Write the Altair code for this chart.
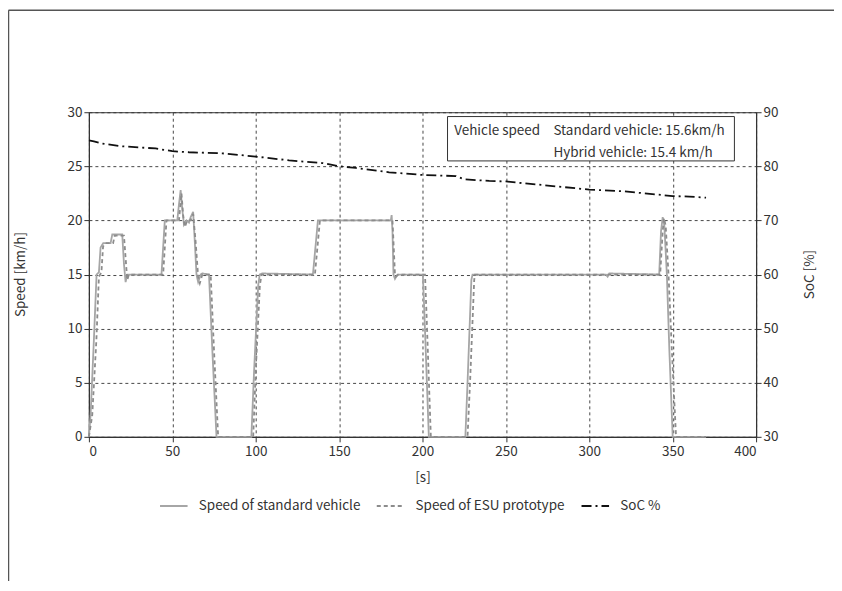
import altair as alt
import pandas as pd

# ---------------- data ----------------
series_names = ["Speed of standard vehicle", "Speed of ESU prototype", "SoC %"]

std_t = [0, 1, 3, 4.6, 6, 7, 8.6, 13, 14, 20, 21, 22, 23, 43.5, 45.5, 53, 54, 55, 56, 57,
         58.5, 60, 61, 62.5, 63.5, 64.5, 65.5, 67, 68, 72, 74, 76.5, 97.4, 99, 101.5, 102.4,
         104, 134.3, 137.3, 181, 181.5, 182, 182.6, 183.5, 185, 200.2, 201, 203.8, 225.7,
         227, 229.3, 230, 310, 311, 312, 341.9, 343, 344, 345, 346.5, 348, 350, 370]
std_v = [0, 2, 9, 15, 15.2, 17.5, 17.9, 17.9, 18.7, 18.7, 16, 14.3, 15, 15, 20, 20, 21.5, 22.8, 21, 19.6,
         20, 19.8, 20.3, 20.8, 18, 15, 14.3, 15, 15.1, 15, 8, 0, 0, 6, 14, 15,
         15.1, 15, 20, 20, 20.5, 19, 15, 14.6, 15, 15, 12, 0, 0,
         5, 14.5, 15, 15, 14.8, 15.1, 15, 19, 20.3, 19.5, 15, 8, 0, 0]

esu_t = [0, 2, 4.5, 6, 7.5, 8.5, 10, 14.5, 15.5, 21, 22.5, 23, 24, 44.5, 46.5, 54, 55.5, 56.5, 57.5,
         59, 61, 62.5, 64, 65.5, 66.5, 68, 73, 75, 77.5, 98.5, 100, 102.5, 103.5, 135.5, 138.5,
         182, 183.5, 184, 185.5, 201.5, 202.5, 205, 227, 228.5, 231, 231.5, 342.5, 344, 344.8,
         345.8, 347.5, 349.5, 352, 370]
esu_v = [0, 2, 9, 14.8, 15.2, 17.6, 17.9, 17.9, 18.6, 18.6, 15.5, 14.5, 15, 15, 20, 20, 22.5, 20.5, 19.4,
         20, 20, 20.6, 18, 14.8, 14.2, 15, 15, 8, 0, 0, 6, 14, 15, 15, 20,
         20, 15, 14.8, 15, 15, 11, 0, 0, 5, 14.5, 15, 15, 19, 20.2,
         19.5, 15, 8, 0, 0]

soc_t = [0, 3, 8, 20, 40, 50, 60, 80, 100, 120, 140, 150, 160, 180, 200, 220, 225, 240, 250,
         260, 280, 300, 320, 340, 350, 360, 370]
soc_v = [84.8, 84.6, 84.2, 83.7, 83.3, 82.8, 82.6, 82.4, 81.8, 81.1, 80.6, 80.0, 79.7, 78.9, 78.4,
         78.2, 77.6, 77.3, 77.2, 76.9, 76.3, 75.7, 75.4, 74.8, 74.5, 74.4, 74.2]

box_label = ["Vehicle speed", "Standard vehicle: 15.6km/h", "Hybrid vehicle: 15.4 km/h"]

FONT = "Noto Sans CJK JP"
DARK = "#333333"

speed_df = pd.concat([
    pd.DataFrame({"t": std_t, "v": std_v, "series": series_names[0]}),
    pd.DataFrame({"t": esu_t, "v": esu_v, "series": series_names[1]}),
])
soc_df = pd.DataFrame({"t": soc_t, "v": soc_v, "series": series_names[2]})

color = alt.Color("series:N", title=None,
                  scale=alt.Scale(domain=series_names, range=["#a6a6a6", "#8c8c8c", "#111111"]),
                  legend=alt.Legend(orient="none", legendX=70, legendY=379, direction="horizontal",
                                    symbolType="stroke", symbolSize=760, labelFontSize=13.5,
                                    labelFont=FONT, labelColor=DARK, columnPadding=12,
                                    labelOffset=10, labelLimit=300))
dash = alt.StrokeDash("series:N", title=None,
                      scale=alt.Scale(domain=series_names, range=[[1, 0], [4, 3], [10, 4, 2, 4]]))
width = alt.StrokeWidth("series:N", title=None,
                        scale=alt.Scale(domain=series_names, range=[1.8, 1.8, 2]))

x_scale = alt.Scale(domain=[0, 400], nice=False)
x_axis = alt.Axis(values=list(range(0, 401, 50)), title="[s]", grid=True,
                  titleY=41, titleBaseline="middle", titleFontWeight="normal", labelPadding=3)
y_scale = alt.Scale(domain=[0, 30], nice=False)
y_axis = alt.Axis(values=list(range(0, 31, 5)), title="Speed [km/h]", grid=True,
                  titleX=-68, titleY=162, titleAngle=-90, titleBaseline="middle",
                  titleFontWeight="normal")

speed = alt.Chart(speed_df).mark_line(interpolate="linear").encode(
    x=alt.X("t:Q", scale=x_scale, axis=x_axis),
    y=alt.Y("v:Q", scale=y_scale, axis=y_axis),
    color=color, strokeDash=dash, strokeWidth=width,
)

box_df = pd.DataFrame({"t0": [215], "t1": [387], "v0": [25.5], "v1": [29.6]})
box = alt.Chart(box_df).mark_rect(fill="white", stroke=DARK, strokeWidth=1).encode(
    x=alt.X("t0:Q", scale=x_scale, axis=x_axis), x2="t1:Q",
    y=alt.Y("v0:Q", scale=y_scale, axis=y_axis), y2="v1:Q")

txt_df = pd.DataFrame({"t": [219, 278.5, 278.5], "v": [28.25, 28.25, 26.2], "label": box_label})
txt = alt.Chart(txt_df).mark_text(align="left", baseline="middle", font=FONT,
                                  fontSize=13.5, color=DARK).encode(
    x=alt.X("t:Q", scale=x_scale, axis=x_axis),
    y=alt.Y("v:Q", scale=y_scale, axis=y_axis), text="label:N")

frame_top = alt.Chart(pd.DataFrame({"a": [0]})).mark_rule(color="#555555", strokeWidth=1.5).encode(
    x=alt.value(-80.5), x2=alt.value(780), y=alt.value(-102))
frame_left = alt.Chart(pd.DataFrame({"a": [0]})).mark_rule(color="#555555", strokeWidth=1.5).encode(
    x=alt.value(-80.5), y=alt.value(-102), y2=alt.value(520))

left = alt.layer(speed, box, txt, frame_top, frame_left)

soc = alt.Chart(soc_df).mark_line().encode(
    x=alt.X("t:Q", scale=x_scale, axis=x_axis),
    y=alt.Y("v:Q", scale=alt.Scale(domain=[30, 90], nice=False),
            axis=alt.Axis(orient="right", values=list(range(30, 91, 10)), title="SoC [%]",
                          grid=False, titleX=53, titleY=162, titleAngle=-90,
                          titleBaseline="middle", titleFontWeight="normal")),
    color=color, strokeDash=dash, strokeWidth=width,
)

chart = alt.layer(left, soc).resolve_scale(y="independent").properties(
    width=668, height=325,
    autosize=alt.AutoSizeParams(type="none"),
    padding={"left": 81, "top": 104, "right": 78, "bottom": 144},
    background="white",
).configure_view(stroke=DARK, strokeWidth=1).configure_axis(
    domainColor=DARK, tickColor=DARK, labelColor=DARK, titleColor=DARK,
    labelFont=FONT, titleFont=FONT, labelFontSize=13.5, titleFontSize=13.5,
    gridColor=DARK, gridDash=[3, 3], gridWidth=0.9, gridOpacity=1,
    tickSize=5, domainWidth=1.2,
)

chart.save("out.html", embed_options={"renderer": "svg", "actions": False})
